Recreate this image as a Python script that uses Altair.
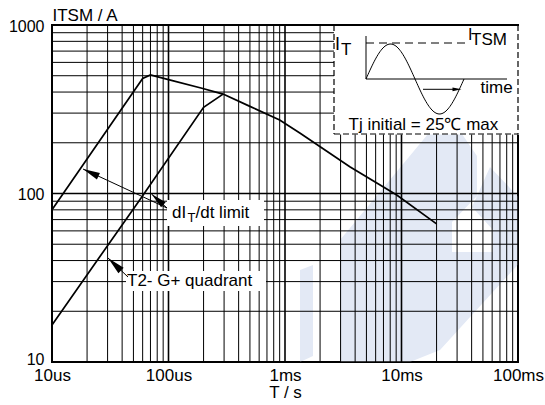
import json
import numpy as np
import pandas as pd
import altair as alt

# ---------------- data ----------------
dit_t = [1e-5, 6e-5, 7e-5, 1e-4, 1.9e-4, 2.94e-4, 5e-4, 9e-4, 1.35e-3, 3.6e-3, 9.1e-3, 2e-2]
dit_i = [80, 482, 505, 474, 423, 389, 329, 273, 228, 144, 98, 66]
quad_t = [1e-5, 2.5e-5, 5.7e-5, 2e-4, 2.94e-4]
quad_i = [16.6, 41, 92, 325, 389]
x_tick_values = [1e-5, 1e-4, 1e-3, 1e-2, 1e-1]
x_tick_labels = ["10us", "100us", "1ms", "10ms", "100ms"]
y_tick_values = [10, 100, 1000]
y_tick_labels = ["10", "100", "1000"]

# ---------------- layout ----------------
W, H = 466, 337
OX, OY = 52, 25
FONT = "Liberation Sans"

xs = alt.Scale(type="log", domain=[1e-5, 1e-1], nice=False)
ys = alt.Scale(type="log", domain=[10, 1000], nice=False)


def P(X, Y):
    return X - OX, Y - OY


x_axis = alt.Axis(
    values=x_tick_values,
    labelExpr=json.dumps(x_tick_labels) + "[round(log(datum.value)/LN10)+5]",
    grid=False, domain=False, ticks=False, tickSize=0,
    labelPadding=5, labelFont=FONT, labelFontSize=17, labelColor="black",
    labelFlush=False, labelOverlap=False, labelBaseline="top",
    title="T / s", titleFont=FONT, titleFontSize=17, titleFontWeight="normal",
    titleColor="black", titleBaseline="alphabetic", titleY=35.5,
)
y_axis = alt.Axis(
    values=y_tick_values,
    labelExpr=json.dumps(y_tick_labels) + "[round(log(datum.value)/LN10)-1]",
    grid=False, domain=False, ticks=False, tickSize=0,
    labelPadding=8, labelFont=FONT, labelFontSize=16, labelColor="black",
    labelFlush=False, labelOverlap=False, labelBaseline="middle",
    labelOffset={"condition": {"test": "datum.value < 20", "value": -3}, "value": 1},
    title="ITSM / A", titleFont=FONT, titleFontSize=17, titleFontWeight="normal",
    titleColor="black", titleAngle=0, titleAlign="left", titleBaseline="alphabetic",
    titleX=0, titleY=-4.5,
)

# grid lines
gx = []
for d in range(-5, -1):
    for m in range(1, 10):
        gx.append({"v": m * 10.0 ** d, "w": 1.6 if m == 1 else 1.0})
gx.append({"v": 1e-1, "w": 1.6})
gy = []
for d in (1, 2):
    for m in range(1, 10):
        gy.append({"v": m * 10.0 ** d, "w": 1.6 if m == 1 else 1.0})
gy.append({"v": 1000.0, "w": 1.6})

grid_v = alt.Chart(pd.DataFrame(gx)).mark_rule(color="black").encode(
    x=alt.X("v:Q", scale=xs, axis=x_axis),
    strokeWidth=alt.StrokeWidth("w:Q", scale=None),
)
grid_h = alt.Chart(pd.DataFrame(gy)).mark_rule(color="black").encode(
    y=alt.Y("v:Q", scale=ys, axis=y_axis),
    strokeWidth=alt.StrokeWidth("w:Q", scale=None),
)

# curves
curves_df = pd.concat([
    pd.DataFrame({"t": dit_t, "i": dit_i, "s": "dIT/dt limit"}),
    pd.DataFrame({"t": quad_t, "i": quad_i, "s": "T2- G+ quadrant"}),
])
curves = alt.Chart(curves_df).mark_line(color="black", strokeWidth=1.7).encode(
    x=alt.X("t:Q", scale=xs, axis=x_axis),
    y=alt.Y("i:Q", scale=ys, axis=y_axis),
    detail="s:N",
)

# watermark (light blue logo)
wm_polys = [
    [(340, 240), (428, 134), (462, 134), (477, 156), (477, 196), (452, 222), (452, 252),
     (493, 252), (493, 230), (472, 207), (490, 167), (546, 226), (546, 236), (513, 270),
     (440, 350), (410, 362), (340, 362)],
    [(327, 362), (412, 362), (365, 406)],
    [(300, 270), (313, 265), (313, 356), (300, 362)],
]
features = []
for poly in wm_polys:
    ring = [list(P(a, b)) for a, b in poly]
    ring.append(ring[0])
    features.append({"type": "Feature", "properties": {},
                     "geometry": {"type": "Polygon", "coordinates": [ring]}})
watermark = alt.Chart(alt.Data(values=features)).mark_geoshape(
    fill="#e3e9f5", strokeWidth=0, stroke=None
).project(type="identity", scale=1, translate=[0, 0])


def seg_df(segs):
    rows = []
    for (x0, y0, x1, y1) in segs:
        a, b = P(x0, y0)
        c, d = P(x1, y1)
        rows.append({"x0": a, "y0": b, "x1": c, "y1": d})
    return pd.DataFrame(rows)


def seg_enc(ch):
    return ch.encode(
        x=alt.X("x0:Q", scale=None), y=alt.Y("y0:Q", scale=None),
        x2="x1:Q", y2="y1:Q",
    )


# white boxes
white = seg_enc(alt.Chart(seg_df([
    (167, 200, 264, 226),
    (126, 271, 266, 291),
    (334, 24, 519.5, 134.5),
])).mark_rect(fill="white", stroke=None))

inset_border = seg_enc(alt.Chart(seg_df([
    (334, 25, 334, 134), (334, 134, 518, 134), (518, 25, 518, 134),
])).mark_rule(color="black", strokeWidth=1.2, strokeDash=[6, 3]))

top_border = seg_enc(alt.Chart(seg_df([(333, 25, 519, 25)])).mark_rule(
    color="black", strokeWidth=2))

inset_lines = seg_enc(alt.Chart(seg_df([
    (366, 36, 366, 79), (366, 79, 507, 79), (423, 89.3, 456, 89.3),
    (83, 169, 167, 208), (151.5, 194, 167, 208), (108, 258, 128, 277),
])).mark_rule(color="black", strokeWidth=1))

itsm_dash = seg_enc(alt.Chart(seg_df([(366, 43, 468, 43)])).mark_rule(
    color="black", strokeWidth=1, strokeDash=[8, 5]))

# schematic sine wave of the inset
sx = np.arange(366, 465, 1.0)
sine_df = pd.DataFrame({"x": sx - OX, "y": 79 - 35 * np.sin(2 * np.pi * (sx - 366) / 98) - OY})
sine = alt.Chart(sine_df).mark_line(color="black", strokeWidth=1).encode(
    x=alt.X("x:Q", scale=None), y=alt.Y("y:Q", scale=None), order="x:Q")

# arrowheads
heads = []
for (tx, ty, bx, by, L) in [(83, 169, 167, 208, 17), (151.5, 194, 167, 208, 16),
                            (108, 258, 128, 277, 18), (461.5, 89.3, 423, 89.3, 9)]:
    dx, dy = tx - bx, ty - by
    n = (dx ** 2 + dy ** 2) ** 0.5
    ux, uy = dx / n, dy / n
    cx, cy = tx - ux * L / 2, ty - uy * L / 2
    ang = (np.degrees(np.arctan2(ux, -uy)) + 360) % 360
    a, b = P(cx, cy)
    heads.append({"x": a, "y": b, "ang": float(ang), "size": float(L * L)})
arrowheads = alt.Chart(pd.DataFrame(heads)).mark_point(
    shape="M0,-1L0.42,1L-0.42,1Z", filled=True, color="black", opacity=1, strokeWidth=0
).encode(
    x=alt.X("x:Q", scale=None), y=alt.Y("y:Q", scale=None),
    angle=alt.Angle("ang:Q", scale=None), size=alt.Size("size:Q", scale=None),
)

# texts
texts = [
    ("I", 335, 50, 18), ("T", 341, 55, 17),
    ("I", 468, 40, 16), ("TSM", 471, 45, 17),
    ("time", 480.5, 93, 17),
    ("Tj initial = 25℃ max", 348.5, 130, 17),
    ("dI", 172, 217.7, 17), ("T", 187.5, 222, 13), ("/dt limit", 195.5, 217.7, 17),
    ("T2- G+ quadrant", 127, 286, 17),
]
tdf = pd.DataFrame([{"txt": s, "x": P(x, y)[0], "y": P(x, y)[1], "fs": f} for s, x, y, f in texts])
labels = alt.Chart(tdf).mark_text(
    align="left", baseline="alphabetic", font=FONT, color="black"
).encode(
    x=alt.X("x:Q", scale=None), y=alt.Y("y:Q", scale=None),
    text="txt:N", size=alt.Size("fs:Q", scale=None),
)

chart = alt.layer(
    watermark, grid_v, grid_h, curves, white, inset_border, top_border,
    inset_lines, itsm_dash, sine, arrowheads, labels,
).properties(
    width=W, height=H,
    autosize=alt.AutoSizeParams(type="none"),
    padding={"left": OX, "top": OY, "right": 545 - OX - W, "bottom": 405 - OY - H},
    background="white",
).configure_view(stroke="black", strokeWidth=2)

chart.save("out.html", embed_options={"renderer": "svg", "actions": False})
